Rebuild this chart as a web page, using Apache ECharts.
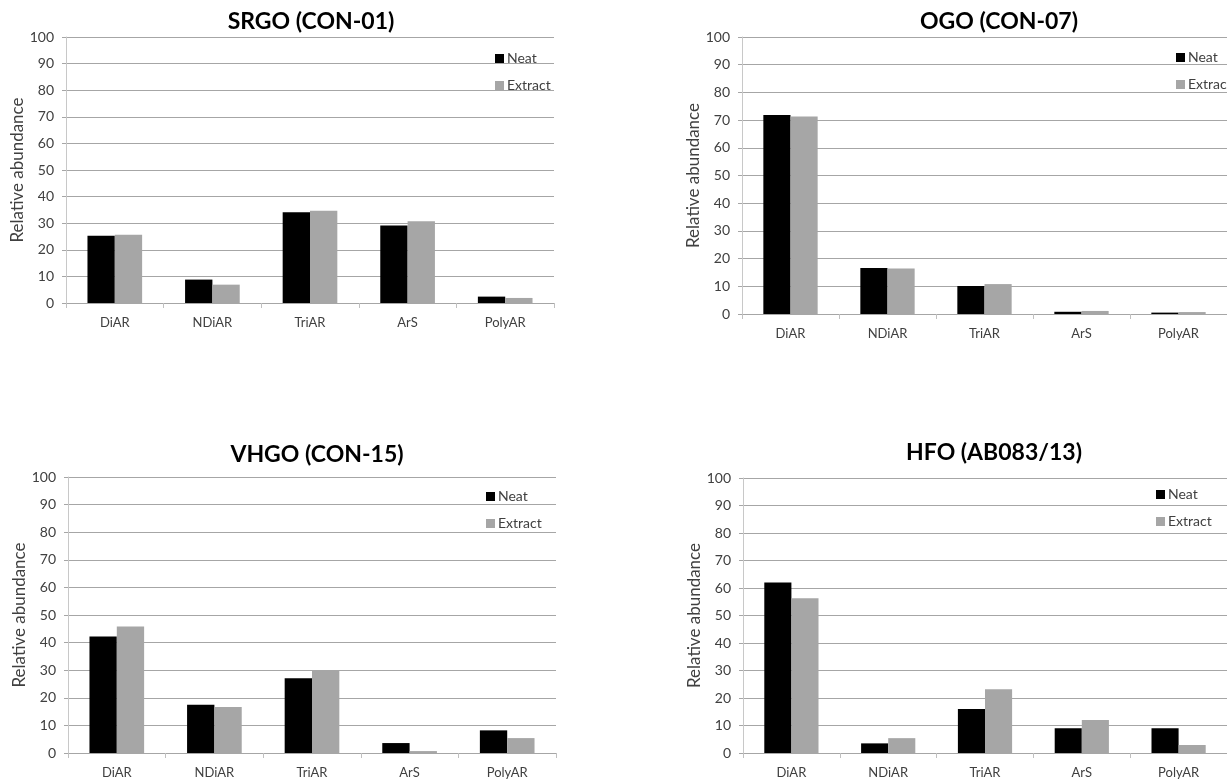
<!DOCTYPE html>
<html><head><meta charset="utf-8">
<script src="https://cdn.jsdelivr.net/npm/echarts@6/dist/echarts.min.js"></script>
<style>html,body{margin:0;padding:0;background:#fff}#c{width:1227px;height:782px}</style>
</head><body><div id="c"></div>
<script>
const categories = ['DiAR', 'NDiAR', 'TriAR', 'ArS', 'PolyAR'];
const titles = ['SRGO (CON-01)', 'OGO (CON-07)', 'VHGO (CON-15)', 'HFO (AB083/13)'];
const seriesNames = ['Neat', 'Extract'];
const yAxisName = 'Relative abundance';

const srgoNeat    = [25.3, 8.8, 34.1, 29.1, 2.4];
const srgoExtract = [25.7, 6.9, 34.7, 30.7, 1.9];
const ogoNeat     = [71.8, 16.6, 10.1, 0.8, 0.5];
const ogoExtract  = [71.3, 16.4, 10.8, 1.1, 0.7];
const vhgoNeat    = [42.2, 17.5, 27.1, 3.6, 8.2];
const vhgoExtract = [45.8, 16.7, 29.9, 0.7, 5.4];
const hfoNeat     = [62.0, 3.5, 16.0, 9.0, 9.0];
const hfoExtract  = [56.3, 5.4, 23.2, 12.0, 2.9];

const panelData = [
  [srgoNeat, srgoExtract],
  [ogoNeat, ogoExtract],
  [vhgoNeat, vhgoExtract],
  [hfoNeat, hfoExtract]
];

const FONT = 'Lato';
const TXT = '#404040';
const GRID = '#a6a6a6';
const COLORS = ['#000000', '#a6a6a6'];

const layout = [
  {left: 66,  top: 37,  width: 488, height: 266, tx: 306, ty: 5,   lx: 490,  ly: 46,  gap: 38},
  {left: 742, top: 37,  width: 492, height: 277, tx: 994, ty: 5,   lx: 1171, ly: 45,  gap: 33},
  {left: 68,  top: 477, width: 488, height: 276, tx: 312, ty: 438, lx: 481,  ly: 484, gap: 37},
  {left: 743, top: 478, width: 492, height: 275, tx: 989, ty: 436, lx: 1151, ly: 482, gap: 34}
];

const option = {
  backgroundColor: '#fff',
  animation: false,
  textStyle: {fontFamily: FONT},
  title: [], grid: [], xAxis: [], yAxis: [], legend: [], series: []
};

layout.forEach((L, i) => {
  option.title.push({
    text: titles[i], left: L.tx, top: L.ty, textAlign: 'center',
    textStyle: {fontFamily: FONT, fontSize: 23, fontWeight: 'bold', color: '#000'}
  });
  option.grid.push({left: L.left, top: L.top, width: L.width, height: L.height, containLabel: false});
  option.xAxis.push({
    type: 'category', gridIndex: i, data: categories, boundaryGap: true,
    axisLine: {show: true, lineStyle: {color: GRID, width: 1}},
    axisTick: {show: true, length: 5, lineStyle: {color: '#c0c0c0'}},
    axisLabel: {color: TXT, fontSize: 13, margin: 13, fontFamily: FONT}
  });
  option.yAxis.push({
    type: 'value', gridIndex: i, min: 0, max: 100, interval: 10,
    name: yAxisName, nameLocation: 'middle', nameGap: L.gap, nameRotate: 90,
    nameTextStyle: {color: TXT, fontSize: 17, fontFamily: FONT},
    axisLine: {show: true, lineStyle: {color: '#c8c8c8'}},
    axisTick: {show: true, length: 4, lineStyle: {color: GRID}},
    axisLabel: {color: TXT, fontSize: 14, margin: 12, fontFamily: FONT},
    splitLine: {show: true, lineStyle: {color: GRID, width: 1}}
  });
  option.legend.push({
    orient: 'vertical', left: L.lx, top: L.ly, itemWidth: 9, itemHeight: 9, itemGap: 12,
    icon: 'rect', data: seriesNames,
    textStyle: {color: TXT, fontSize: 14, lineHeight: 15, fontFamily: FONT, padding: [0, 0, 0, -2]}
  });
  seriesNames.forEach((nm, k) => {
    option.series.push({
      type: 'bar', name: nm, xAxisIndex: i, yAxisIndex: i,
      data: panelData[i][k], barWidth: '28%', barGap: '0%',
      itemStyle: {color: COLORS[k]}
    });
  });
});

const chart = echarts.init(document.getElementById('c'), null, {renderer: 'canvas'});
chart.setOption(option);
</script>
</body></html>
